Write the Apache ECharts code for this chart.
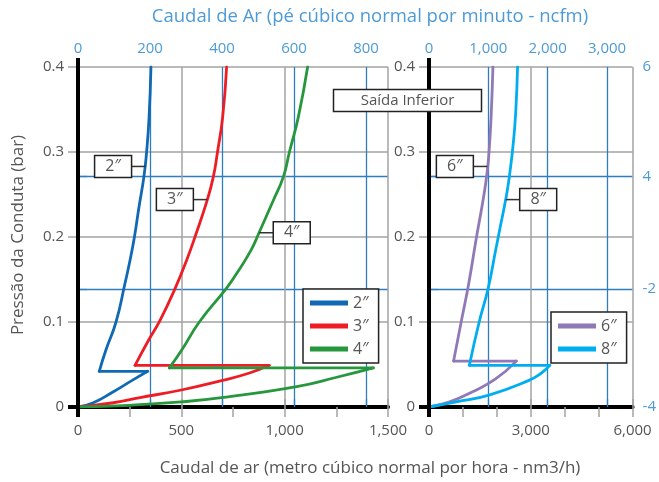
<!DOCTYPE html>
<html>
<head>
<meta charset="utf-8">
<script src="https://cdn.jsdelivr.net/npm/echarts@6/dist/echarts.min.js"></script>
<style>
html,body{margin:0;padding:0;background:#fff;}
#c{width:659px;height:482px;}
</style>
</head>
<body>
<div id="c"></div>
<script>
// ---------- DATA ----------
// x = air flow (nm3/h), y = duct pressure (bar)
// each pipe size: lower branch (from origin), horizontal step, upper branch (to 0.4 bar)
const lower2in = [[0,0],[74,0.005],[171,0.018],[260,0.031],[337,0.042]];
const step2in  = [[337,0.042],[103,0.042]];
const upper2in = [[103,0.042],[135,0.067],[184,0.1],[227,0.145],[252,0.173],[273,0.2],[295,0.235],[319,0.271],[332,0.3],[344,0.341],[353,0.4]];

const lower3in = [[0,0],[171,0.005],[300,0.011],[500,0.02],[695,0.031],[830,0.04],[925,0.049]];
const step3in  = [[925,0.049],[276,0.049]];
const upper3in = [[276,0.049],[340,0.078],[397,0.102],[469,0.139],[526,0.173],[566,0.2],[626,0.244],[655,0.271],[675,0.3],[700,0.341],[719,0.4]];

const lower4in = [[0,0],[250,0.002],[500,0.006],[695,0.011],[1058,0.024],[1252,0.035],[1429,0.046]];
const step4in  = [[1429,0.046],[442,0.046]];
const upper4in = [[442,0.046],[502,0.067],[587,0.1],[716,0.139],[762,0.155],[836,0.184],[876,0.205],[945,0.243],[994,0.271],[1023,0.3],[1066,0.341],[1111,0.4]];

const lower6in = [[0,0],[609,0.006],[1285,0.018],[1962,0.033],[2572,0.054]];
const step6in  = [[2572,0.054],[725,0.054]];
const upper6in = [[725,0.054],[948,0.1],[1170,0.145],[1400,0.2],[1600,0.245],[1710,0.275],[1769,0.3],[1830,0.341],[1884,0.4]];

const lower8in = [[0,0],[802,0.006],[1769,0.014],[2929,0.031],[3314,0.04],[3558,0.049]];
const step8in  = [[3558,0.049],[1189,0.049]];
const upper8in = [[1189,0.049],[1479,0.1],[1740,0.139],[1962,0.184],[2080,0.208],[2260,0.244],[2368,0.271],[2493,0.314],[2560,0.35],[2610,0.4]];

const leftNames = ['2″','3″','4″'];
const rightNames = ['6″','8″'];

const leftFlowMax = 1500, rightFlowMax = 6000;
const leftNcfmTicks = [0, 200, 400, 600, 800];
const rightNcfmTicks = [0, 1000, 2000, 3000];
const leftNcfmMax = 861, rightNcfmMax = 3431;
const rightAxisValues = [0, 0.139, 0.271, 0.4];
const rightAxisLabels = ['-4', '-2', '4', '6'];
const blueLineValues = [0.139, 0.271];

// label callouts: [name, anchor x, anchor y, panel, side]
const callouts = [
  ['2″', 327, 0.283, 0, 'left'],
  ['3″', 626, 0.244, 0, 'left'],
  ['4″', 877, 0.205, 0, 'right'],
  ['6″', 1720, 0.283, 1, 'left'],
  ['8″', 2260, 0.244, 1, 'right']
];

// ---------- STYLE ----------
const FONT = 'Open Sans';
const TXT = '#555';
const GRAY = '#a3a3a3';
const BLUE = '#2e7dc0';
const LBLUE = '#4d9bd6';
const colors = {'2″':'#0f69b4','3″':'#ee1c25','4″':'#26973d','6″':'#9079b6','8″':'#00aeef'};

const fmt = v => v.toLocaleString('en-US');
const pfmt = v => v === 0 ? '0' : v.toFixed(1);

const chart = echarts.init(document.getElementById('c'), null, {renderer:'canvas'});

function bottomAxis(grid, max, interval, minorSplit){
  return {
    gridIndex: grid, type:'value', position:'bottom', min:0, max:max, interval:interval,
    axisLine:{show:true, onZero:false, lineStyle:{color:'#000', width:4}},
    axisTick:{show:true, length:10, lineStyle:{color:GRAY, width:1.5}},
    minorTick:{show:true, splitNumber:minorSplit, length:10, lineStyle:{color:GRAY, width:1.5}},
    minorSplitLine:{show:false},
    splitLine:{show:true, lineStyle:{color:GRAY, width:1.5}},
    axisLabel:{color:TXT, fontFamily:FONT, fontSize:15, margin:16, formatter:fmt}
  };
}
function topAxis(grid, max, ticks){
  return {
    gridIndex: grid, type:'value', position:'top', min:0, max:max,
    axisLine:{show:false},
    axisTick:{show:true, length:8, customValues:ticks.filter(t=>t>0), lineStyle:{color:BLUE, width:1.3}},
    axisLabel:{show:true, customValues:ticks, color:LBLUE, fontFamily:FONT, fontSize:15, margin:11, formatter:fmt},
    splitLine:{show:true, lineStyle:{color:BLUE, width:1.3}}
  };
}
function topGrayTicks(grid, max, interval){
  return {
    gridIndex: grid, type:'value', position:'top', min:0, max:max, interval:interval,
    axisLine:{show:false}, axisLabel:{show:false}, splitLine:{show:false},
    axisTick:{show:true, length:8, lineStyle:{color:GRAY, width:1.5}}
  };
}
function leftAxis(grid){
  return {
    gridIndex: grid, type:'value', position:'left', min:0, max:0.4, interval:0.1,
    axisLine:{show:true, onZero:false, lineStyle:{color:'#000', width:4}},
    axisTick:{show:true, length:10, lineStyle:{color:GRAY, width:1.5}},
    splitLine:{show:true, lineStyle:{color:GRAY, width:1.5}},
    axisLabel:{color:TXT, fontFamily:FONT, fontSize:15, margin:14, formatter:pfmt}
  };
}
function rightAxis(grid, withLabels){
  return {
    gridIndex: grid, type:'value', position:'right', min:0, max:0.4,
    axisLine:{show:false},
    axisTick:{show:true, length:9, customValues:blueLineValues, lineStyle:{color:BLUE, width:1.3}},
    splitLine:{show:true, lineStyle:{color:BLUE, width:1.3}},
    axisLabel:{show:withLabels, customValues:rightAxisValues, color:LBLUE, fontFamily:FONT, fontSize:15, margin:10,
      formatter: v => { const i = rightAxisValues.findIndex(r => Math.abs(r - v) < 1e-6); return i >= 0 ? rightAxisLabels[i] : ''; }}
  };
}

function seg(name, data, xi, yi, curved){
  return {
    name:name, type:'line', data:data, xAxisIndex:xi, yAxisIndex:yi,
    showSymbol:false, symbol:'none',
    smooth: curved ? 0.5 : false,
    z:5,
    lineStyle:{color:colors[name], width:2.8, cap:'round', join:'round'},
    itemStyle:{color:colors[name]}
  };
}
function pipe(name, lower, step, upper, xi, yi){
  return [seg(name, lower, xi, yi, true), seg(name, step, xi, yi, false), seg(name, upper, xi, yi, true)];
}

const legendBase = {
  orient:'vertical', icon:'rect', itemWidth:38, itemHeight:5, itemGap:7,
  backgroundColor:'#fff', borderColor:'#222', borderWidth:1.5, borderRadius:0,
  selectedMode:false,
  textStyle:{color:TXT, fontFamily:FONT, fontSize:16}
};

chart.setOption({
  animation:false,
  grid:[
    {left:78, top:67, width:310, height:340},
    {left:429, top:67, width:207, height:340}
  ],
  xAxis:[
    bottomAxis(0, leftFlowMax, 500, 2),
    topAxis(0, leftNcfmMax, leftNcfmTicks),
    topGrayTicks(0, leftFlowMax, 500),
    bottomAxis(1, rightFlowMax, 3000, 3),
    topAxis(1, rightNcfmMax, rightNcfmTicks),
    topGrayTicks(1, rightFlowMax, 3000)
  ],
  yAxis:[
    leftAxis(0),
    rightAxis(0, false),
    leftAxis(1),
    rightAxis(1, true)
  ],
  legend:[
    Object.assign({}, legendBase, {data:leftNames, left:303, top:289, padding:[6,10,6,7]}),
    Object.assign({}, legendBase, {data:rightNames, left:551, top:312, padding:[6,10,6,7]})
  ],
  series:[].concat(
    pipe('2″', lower2in, step2in, upper2in, 0, 0),
    pipe('3″', lower3in, step3in, upper3in, 0, 0),
    pipe('4″', lower4in, step4in, upper4in, 0, 0),
    pipe('6″', lower6in, step6in, upper6in, 3, 2),
    pipe('8″', lower8in, step8in, upper8in, 3, 2)
  )
});

// ---------- annotations ----------
const g = [];
g.push({type:'text', x:370, y:17, style:{text:'Caudal de Ar (pé cúbico normal por minuto - ncfm)', fill:LBLUE, font:'18.5px "Open Sans"', textAlign:'center', textVerticalAlign:'middle'}, z:10});
g.push({type:'text', x:370, y:468, style:{text:'Caudal de ar (metro cúbico normal por hora - nm3/h)', fill:TXT, font:'17px "Open Sans"', textAlign:'center', textVerticalAlign:'middle'}, z:10});
g.push({type:'text', x:18, y:235, rotation:Math.PI/2, style:{text:'Pressão da Conduta (bar)', fill:TXT, font:'17px "Open Sans"', textAlign:'center', textVerticalAlign:'middle'}, z:10});

// axis line extensions (cross style)
[[0,0],[3,2]].forEach(([xi, yi]) => {
  const o = chart.convertToPixel({xAxisIndex:xi, yAxisIndex:yi}, [0,0]);
  const t = chart.convertToPixel({xAxisIndex:xi, yAxisIndex:yi}, [0,0.4]);
  g.push({type:'line', shape:{x1:o[0], y1:t[1]-9, x2:o[0], y2:o[1]+10}, style:{stroke:'#000', lineWidth:4}, z:6});
  g.push({type:'line', shape:{x1:o[0]-10, y1:o[1], x2:o[0], y2:o[1]}, style:{stroke:'#000', lineWidth:4}, z:6});
});

// callout boxes
callouts.forEach(([name, ax, ay, panel, side]) => {
  const p = panel === 0 ? chart.convertToPixel({xAxisIndex:0, yAxisIndex:0}, [ax, ay])
                        : chart.convertToPixel({xAxisIndex:3, yAxisIndex:2}, [ax, ay]);
  const w = 37, h = 22, lead = 14;
  const bx = side === 'left' ? p[0] - lead - w : p[0] + lead;
  const by = p[1] - h/2;
  const lx1 = side === 'left' ? p[0] - lead : p[0];
  const lx2 = side === 'left' ? p[0] : p[0] + lead;
  g.push({type:'line', shape:{x1:lx1, y1:p[1], x2:lx2, y2:p[1]}, style:{stroke:'#333', lineWidth:1.5}, z:8});
  g.push({type:'rect', shape:{x:bx, y:by, width:w, height:h}, style:{fill:'#fff', stroke:'#222', lineWidth:1.5}, z:8});
  g.push({type:'text', x:bx + w/2, y:p[1], style:{text:name, fill:TXT, font:'16px "Open Sans"', textAlign:'center', textVerticalAlign:'middle'}, z:9});
});

g.push({type:'rect', shape:{x:333.5, y:89.5, width:148, height:22}, style:{fill:'#fff', stroke:'#222', lineWidth:1.5}, z:8});
g.push({type:'text', x:407.5, y:100.5, style:{text:'Saída Inferior', fill:TXT, font:'15px "Open Sans"', textAlign:'center', textVerticalAlign:'middle'}, z:9});

chart.setOption({graphic:g});
</script>
</body>
</html>
